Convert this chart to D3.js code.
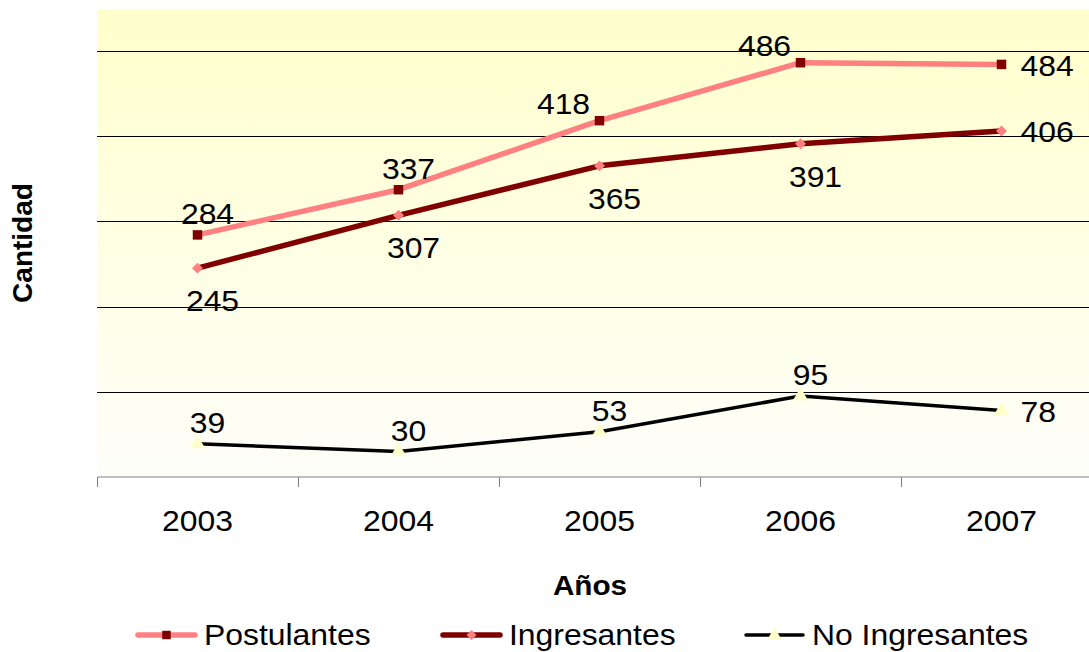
<!DOCTYPE html>
<html>
<head>
<meta charset="utf-8">
<script src="https://cdn.jsdelivr.net/npm/d3@7"></script>
<style>
  body { margin: 0; background: #fff; }
  text { font-family: "Liberation Sans", Arial, sans-serif; }
</style>
</head>
<body>
<div id="chart"></div>
<script>

var years = ["2003", "2004", "2005", "2006", "2007"];
var postulantes = [284, 337, 418, 486, 484];
var ingresantes = [245, 307, 365, 391, 406];
var noIngresantes = [39, 30, 53, 95, 78];
var yTicks = [100, 200, 300, 400, 500];
// where excel put each data label
var postLabelPos = ["t", "t", "tl", "tl", "r"];
var ingLabelPos = ["b", "b", "b", "b", "r"];
var noLabelPos = ["t", "t", "t", "t", "r"];

var width = 1089, height = 652;
var plot = { left: 97, top: 9, right: 1102, bottom: 477 };
var stretch = 1.1; // the original text is a bit wider than Arial

var svg = d3.select("#chart").append("svg")
  .attr("width", width)
  .attr("height", height);

var defs = svg.append("defs");
var grad = defs.append("linearGradient")
  .attr("id", "bg")
  .attr("x1", 0).attr("y1", 0).attr("x2", 0).attr("y2", 1);
grad.append("stop").attr("offset", "0%").attr("stop-color", "#ffffcc");
grad.append("stop").attr("offset", "100%").attr("stop-color", "#fefefa");

var x = d3.scaleBand().domain(years).range([plot.left, plot.right]);
var y = d3.scaleLinear().domain([0, 549]).range([plot.bottom, plot.top]);

function wideText(g, tx, ty) {
  return g.append("text")
    .attr("transform", "translate(" + tx + "," + ty + ") scale(" + stretch + ",1)");
}

svg.append("rect")
  .attr("x", plot.left).attr("y", plot.top)
  .attr("width", plot.right - plot.left)
  .attr("height", plot.bottom - plot.top)
  .attr("fill", "url(#bg)");

// gridlines
svg.append("g")
  .selectAll("line")
  .data(yTicks)
  .enter().append("line")
  .attr("x1", plot.left).attr("x2", plot.right)
  .attr("y1", function(d) { return Math.round(y(d)) + 0.5; })
  .attr("y2", function(d) { return Math.round(y(d)) + 0.5; })
  .attr("stroke", "#000")
  .attr("stroke-width", 1);

// x axis
var xAxis = svg.append("g")
  .attr("transform", "translate(0," + (Math.round(plot.bottom) - 0.5) + ")")
  .call(d3.axisBottom(x).tickSize(0).tickPadding(34));
xAxis.select(".domain").attr("stroke", "#808080").attr("stroke-width", 1);
xAxis.selectAll(".tick text")
  .attr("font-size", "29px")
  .attr("fill", "#000")
  .attr("transform", "scale(" + stretch + ",1)")
  .style("font-family", "Liberation Sans, Arial, sans-serif");

var tickPos = years.map(function(d) { return x(d); });
tickPos.push(plot.right);
svg.append("g")
  .selectAll("line")
  .data(tickPos)
  .enter().append("line")
  .attr("x1", function(d) { return Math.round(d) + 0.5; })
  .attr("x2", function(d) { return Math.round(d) + 0.5; })
  .attr("y1", plot.bottom)
  .attr("y2", plot.bottom + 10)
  .attr("stroke", "#808080");

// axis titles
wideText(svg, 590, 595)
  .attr("text-anchor", "middle")
  .attr("font-size", "27px")
  .attr("font-weight", "bold")
  .text("Años");

svg.append("text")
  .attr("transform", "translate(32,243) rotate(-90)")
  .attr("text-anchor", "middle")
  .attr("font-size", "28px")
  .attr("font-weight", "bold")
  .text("Cantidad");

var line = d3.line()
  .x(function(d, i) { return x(years[i]) + x.bandwidth() / 2; })
  .y(function(d) { return y(d); });

var series = [
  { name: "Postulantes", values: postulantes, labels: postLabelPos, stroke: "#ff8080", width: 5.5, marker: "square", fill: "#800000", size: 90, rot: 0 },
  { name: "Ingresantes", values: ingresantes, labels: ingLabelPos, stroke: "#800000", width: 5.5, marker: "square", fill: "#ff8080", size: 60, rot: 45 },
  { name: "No Ingresantes", values: noIngresantes, labels: noLabelPos, stroke: "#000000", width: 3.5, marker: "triangle", fill: "#ffffcc", size: 100, rot: 0 }
];

var symbols = { square: d3.symbolSquare, triangle: d3.symbolTriangle };

var labelOffset = {
  t: { dx: 10, dy: -21, anchor: "middle" },
  tl: { dx: -36, dy: -17, anchor: "middle" },
  r: { dx: 19, dy: 1, anchor: "start" },
  b: { dx: 15, dy: 33, anchor: "middle" }
};

series.forEach(function(s) {
  svg.append("path")
    .datum(s.values)
    .attr("d", line)
    .attr("fill", "none")
    .attr("stroke", s.stroke)
    .attr("stroke-width", s.width)
    .attr("stroke-linejoin", "round");

  svg.append("g")
    .selectAll("path")
    .data(s.values)
    .enter().append("path")
    .attr("d", d3.symbol().type(symbols[s.marker]).size(s.size))
    .attr("transform", function(d, i) {
      return "translate(" + (x(years[i]) + x.bandwidth() / 2) + "," + y(d) + ") rotate(" + s.rot + ")";
    })
    .attr("fill", s.fill);

  var labels = svg.append("g");
  s.values.forEach(function(d, i) {
    var o = labelOffset[s.labels[i]];
    wideText(labels, x(years[i]) + x.bandwidth() / 2 + o.dx, y(d) + o.dy)
      .attr("dy", "0.35em")
      .attr("text-anchor", o.anchor)
      .attr("font-size", "29px")
      .attr("fill", "#000")
      .text(d);
  });
});

// legend
var legendX = [138, 443, 746];
var legend = svg.append("g");
series.forEach(function(s, i) {
  var lx = legendX[i], ly = 635;
  legend.append("line")
    .attr("x1", lx).attr("x2", lx + 57)
    .attr("y1", ly).attr("y2", ly)
    .attr("stroke", s.stroke)
    .attr("stroke-width", s.width)
    .attr("stroke-linecap", "round");
  legend.append("path")
    .attr("d", d3.symbol().type(symbols[s.marker]).size(s.size * 0.8))
    .attr("transform", "translate(" + (lx + 28.5) + "," + ly + ") rotate(" + s.rot + ")")
    .attr("fill", s.fill);
  wideText(legend, lx + 66, ly)
    .attr("dy", "0.35em")
    .attr("font-size", "29px")
    .text(s.name);
});

</script>
</body>
</html>
